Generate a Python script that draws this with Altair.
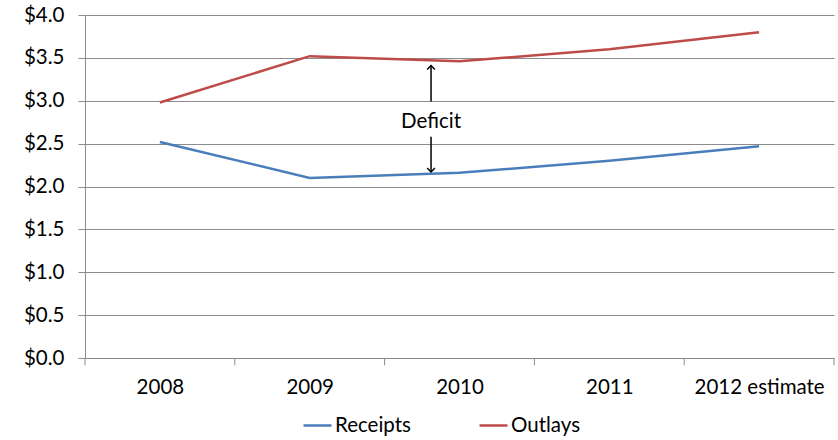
import altair as alt
import pandas as pd

years = ["2008", "2009", "2010", "2011", "2012 estimate"]
receipts = [2.52, 2.10, 2.16, 2.30, 2.47]
outlays = [2.98, 3.52, 3.46, 3.60, 3.80]
series_names = ["Receipts", "Outlays"]
series_colors = ["#4A7EBB", "#BE4B48"]
y_ticks = [0, 0.5, 1.0, 1.5, 2.0, 2.5, 3.0, 3.5, 4.0]

# Deficit annotation (between 2009 and 2010)
ann_x = [1.81]
ann_label = ["Deficit"]
ann_text_y = [2.75]
up_arrow = [2.99, 3.41]
down_arrow = [2.58, 2.17]

FONT = "Lato"
FS = 20.5

rows = []
for i, y in enumerate(years):
    rows.append({"idx": i, "year": y, "series": "Receipts", "value": receipts[i]})
    rows.append({"idx": i, "year": y, "series": "Outlays", "value": outlays[i]})
df = pd.DataFrame(rows)

label_js = "[" + ",".join('"%s"' % y for y in years) + "]"

xscale = alt.Scale(domain=[-0.5, len(years) - 0.5], nice=False, zero=False)
yscale = alt.Scale(domain=[0, 4], nice=False)

lines = alt.Chart(df).mark_line(strokeWidth=2.5).encode(
    x=alt.X("idx:Q", scale=xscale,
            axis=alt.Axis(values=list(range(len(years))), title=None, grid=False,
                          ticks=False, domain=True, domainColor="#888888",
                          labelExpr=label_js + "[datum.value]",
                          labelFont=FONT, labelFontSize=FS, labelColor="#000000",
                          labelPadding=19)),
    y=alt.Y("value:Q", scale=yscale,
            axis=alt.Axis(values=y_ticks, format="$.1f", title=None,
                          gridColor="#8c8c8c", gridWidth=1, tickColor="#8c8c8c",
                          tickSize=7, domainColor="#8c8c8c", labelFont=FONT,
                          labelFontSize=FS, labelColor="#000000", labelPadding=14)),
    color=alt.Color("series:N",
                    scale=alt.Scale(domain=series_names, range=series_colors),
                    legend=alt.Legend(title=None, orient="none", direction="horizontal",
                                      legendX=217, legendY=395, symbolType="stroke",
                                      symbolStrokeWidth=2.5, symbolSize=784,
                                      labelFont=FONT, labelFontSize=FS,
                                      labelColor="#000000", columnPadding=63,
                                      labelOffset=2)),
    detail="series:N",
)

# category boundary tick marks below the x axis
bounds = pd.DataFrame({"b": [i - 0.5 for i in range(len(years) + 1)], "y0": 0, "y1": -0.085})
ticks = alt.Chart(bounds).mark_rule(color="#8c8c8c", strokeWidth=1).encode(
    x=alt.X("b:Q", scale=xscale), y=alt.Y("y0:Q", scale=yscale), y2="y1:Q")

ann = pd.DataFrame({"x": ann_x, "label": ann_label, "ty": ann_text_y,
                    "u0": [up_arrow[0]], "u1": [up_arrow[1]],
                    "d0": [down_arrow[0]], "d1": [down_arrow[1]]})
text = alt.Chart(ann).mark_text(font=FONT, fontSize=FS, color="#000000").encode(
    x=alt.X("x:Q", scale=xscale), y=alt.Y("ty:Q", scale=yscale), text="label:N")
up_rule = alt.Chart(ann).mark_rule(color="#000000", strokeWidth=1.5).encode(
    x=alt.X("x:Q", scale=xscale), y=alt.Y("u0:Q", scale=yscale), y2="u1:Q")
down_rule = alt.Chart(ann).mark_rule(color="#000000", strokeWidth=1.5).encode(
    x=alt.X("x:Q", scale=xscale), y=alt.Y("d0:Q", scale=yscale), y2="d1:Q")
up_head = alt.Chart(ann).mark_point(shape="M-1,1L0,0L1,1", filled=False, stroke="#000000",
                                    strokeWidth=1.5, size=60, opacity=1).encode(
    x=alt.X("x:Q", scale=xscale), y=alt.Y("u1:Q", scale=yscale))
down_head = alt.Chart(ann).mark_point(shape="M-1,-1L0,0L1,-1", filled=False, stroke="#000000",
                                      strokeWidth=1.5, size=60, opacity=1).encode(
    x=alt.X("x:Q", scale=xscale), y=alt.Y("d1:Q", scale=yscale))

chart = alt.layer(lines, ticks, text, up_rule, down_rule, up_head, down_head).properties(
    width=749, height=343,
    autosize=alt.AutoSizeParams(type="none"),
    padding={"left": 85, "top": 15, "right": 4, "bottom": 82},
    background="#ffffff",
).configure_view(stroke=None)

chart.save("out.html", embed_options={"renderer": "svg", "actions": False})
